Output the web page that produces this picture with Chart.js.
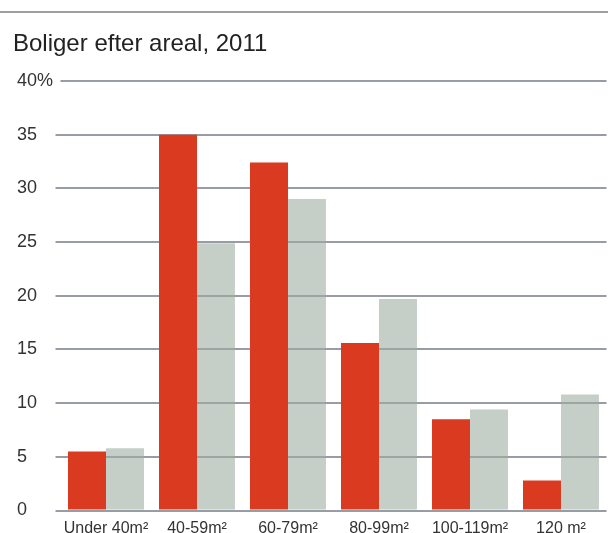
<!DOCTYPE html>
<html>
<head>
<meta charset="utf-8">
<script src="https://cdn.jsdelivr.net/npm/chart.js@4"></script>
<style>
  html, body { margin: 0; padding: 0; background: #fff; }
  #wrap { width: 608px; height: 533px; }
</style>
</head>
<body>
<div id="wrap"><canvas id="arealChart"></canvas></div>
<script>
const categories = ["Under 40m²", "40-59m²", "60-79m²", "80-99m²", "100-119m²", "120 m²"];
const seriesA = [5.5, 35.0, 32.4, 15.6, 8.5, 2.8];
const seriesB = [5.8, 24.9, 29.0, 19.7, 9.4, 10.8];
const yTicks = [0, 5, 10, 15, 20, 25, 30, 35, 40];

const fontFamily = "'Liberation Sans', Arial, sans-serif";

// grey rule at the very top, and nudge the y labels in line with the title
const frame = {
  id: "frame",
  afterLayout(chart) {
    chart.scales.y.left += 4;
  },
  beforeDraw(chart) {
    const c = chart.ctx;
    c.save();
    c.strokeStyle = "#7f7f7f";
    c.lineWidth = 1.5;
    c.beginPath();
    c.moveTo(0, 12);
    c.lineTo(chart.width, 12);
    c.stroke();
    c.restore();
  }
};

document.addEventListener("DOMContentLoaded", () => {
  const ctx = document.getElementById("arealChart").getContext("2d");

  new Chart(ctx, {
    type: "bar",
    data: {
      labels: categories,
      datasets: [
        {
          data: seriesA,
          backgroundColor: "#d93a20",
          categoryPercentage: 0.835,
          barPercentage: 1.0
        },
        {
          data: seriesB,
          backgroundColor: "rgba(158,173,162,0.6)",
          categoryPercentage: 0.835,
          barPercentage: 1.0
        }
      ]
    },
    options: {
      responsive: true,
      maintainAspectRatio: false,
      animation: false,
      layout: { padding: { left: 13, right: 1.5, top: 0, bottom: 0 } },
      scales: {
        x: {
          grid: { display: false },
          border: { display: false },
          ticks: {
            color: "#333",
            padding: 0.5,
            maxRotation: 0,
            autoSkip: false,
            font: { family: fontFamily, size: 16 }
          },
          afterFit: s => { s.height = 22.5; }
        },
        y: {
          min: 0,
          max: 40,
          afterBuildTicks: s => { s.ticks = yTicks.map(v => ({ value: v })); },
          afterFit: s => { s.width = 47.5; },
          border: { display: false },
          grid: {
            color: "#979ca5",
            lineWidth: 2,
            drawTicks: true,
            tickLength: 5
          },
          ticks: {
            color: "#333",
            crossAlign: "far",
            font: { family: fontFamily, size: 18 },
            showLabelBackdrop: true,
            backdropColor: "#fff",
            backdropPadding: { left: 0, right: 12, top: 0, bottom: 0 },
            callback: v => (v === 40 ? "40%" : v)
          }
        }
      },
      plugins: {
        legend: { display: false },
        tooltip: { enabled: false },
        title: {
          display: true,
          text: "Boliger efter areal, 2011",
          align: "start",
          color: "#222",
          font: { family: fontFamily, size: 24, weight: "normal" },
          padding: { top: 29.5, bottom: 22.7 }
        }
      }
    },
    plugins: [frame]
  });
});
</script>
</body>
</html>
